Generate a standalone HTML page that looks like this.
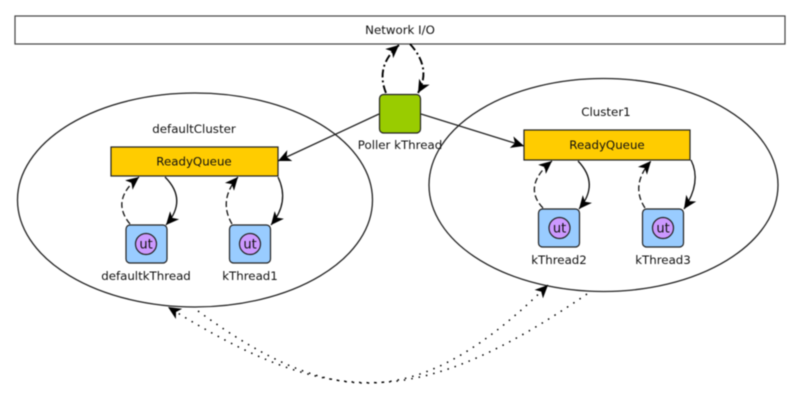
<!DOCTYPE html>
<html>
<head>
<meta charset="utf-8">
<style>
html,body{margin:0;padding:0;background:#fff;width:800px;height:400px;overflow:hidden}
svg{display:block;filter:blur(0.45px)}
text{font-family:"DejaVu Sans","Liberation Sans",sans-serif;font-size:11.8px;fill:#111;text-anchor:middle}
text.u{font-size:13px}
</style>
</head>
<body>
<svg width="800" height="400" viewBox="0 0 800 400" xmlns="http://www.w3.org/2000/svg">
<defs>
<marker id="a" markerUnits="userSpaceOnUse" markerWidth="15" markerHeight="14" refX="13" refY="7" orient="auto">
<path d="M0,1 L13,7 L0,13 L3.500,7 Z" fill="#000"/>
</marker>
</defs>
<rect x="15" y="16" width="770" height="28" fill="#fff" stroke="#444" stroke-width="1.200"/>
<text x="400" y="34">Network I/O</text>

<ellipse cx="195" cy="200" rx="177.500" ry="107" fill="#fff" stroke="#222" stroke-width="1.300"/>
<ellipse cx="603.500" cy="185" rx="174.500" ry="106.500" fill="#fff" stroke="#222" stroke-width="1.300"/>

<text x="194" y="133">defaultCluster</text>
<text x="606" y="116">Cluster1</text>

<path d="M379,114 L278,161" fill="none" stroke="#222" stroke-width="1.300" marker-end="url(#a)"/>
<path d="M421,114 L524,146" fill="none" stroke="#222" stroke-width="1.300" marker-end="url(#a)"/>

<rect x="379.500" y="94.500" width="41" height="38.500" rx="4" fill="#99cc00" stroke="#222" stroke-width="1.200"/>
<text x="400" y="149">Poller kThread</text>

<path d="M386,93 Q375,66 399,45" fill="none" stroke="#000" stroke-width="1.900" stroke-dasharray="8 3 2 3" marker-end="url(#a)"/>
<path d="M410,44 Q432,68 418,93" fill="none" stroke="#000" stroke-width="1.900" stroke-dasharray="8 3 2 3" marker-end="url(#a)"/>

<rect x="111" y="147" width="167" height="29" fill="#ffcc00" stroke="#222" stroke-width="1.200"/>
<text x="194" y="165.500">ReadyQueue</text>
<rect x="524" y="130" width="166" height="30" fill="#ffcc00" stroke="#222" stroke-width="1.200"/>
<text x="607" y="149">ReadyQueue</text>

<g fill="#99ccff" stroke="#222" stroke-width="1.200">
<rect x="126" y="225" width="41" height="38" rx="4"/>
<rect x="229.500" y="225" width="41" height="38" rx="4"/>
<rect x="538.500" y="209" width="41" height="38" rx="4"/>
<rect x="642.500" y="209" width="41" height="38" rx="4"/>
</g>
<g fill="#cc99ff" stroke="#222" stroke-width="1.200">
<circle cx="146" cy="244" r="10.500"/>
<circle cx="250" cy="244" r="10.500"/>
<circle cx="559.500" cy="228" r="10.500"/>
<circle cx="663" cy="228" r="10.500"/>
</g>
<text class="u" x="146" y="248.500">ut</text>
<text class="u" x="250" y="248.500">ut</text>
<text class="u" x="559.500" y="232.500">ut</text>
<text class="u" x="663" y="232.500">ut</text>

<text x="146" y="280">defaultkThread</text>
<text x="250" y="280">kThread1</text>
<text x="559" y="264">kThread2</text>
<text x="663" y="264">kThread3</text>

<g fill="none" stroke="#111" stroke-width="1.300">
<path d="M130,224 Q110,200 139,177" stroke-dasharray="6 3" marker-end="url(#a)"/>
<path d="M165,177 Q188,200 166,225" marker-end="url(#a)"/>
<path d="M232,224 Q218,200 238,177" stroke-dasharray="6 3" marker-end="url(#a)"/>
<path d="M278,177 Q290,202 271,225" marker-end="url(#a)"/>
<path d="M543,208 Q522,186 552,161" stroke-dasharray="6 3" marker-end="url(#a)"/>
<path d="M578,161 Q600,184 579,209" marker-end="url(#a)"/>
<path d="M645,208 Q630,185 651,161" stroke-dasharray="6 3" marker-end="url(#a)"/>
<path d="M691,160 Q702,182 684,209" marker-end="url(#a)"/>
<path d="M587,294 C417,410 333,410 168,307" stroke="#000" stroke-width="1.500" stroke-dasharray="1.500 6" marker-end="url(#a)"/>
<path d="M198,311 C335,411 420,411 548,285" stroke="#000" stroke-width="1.500" stroke-dasharray="1.500 6" marker-end="url(#a)"/>
</g>
</svg>
</body>
</html>
